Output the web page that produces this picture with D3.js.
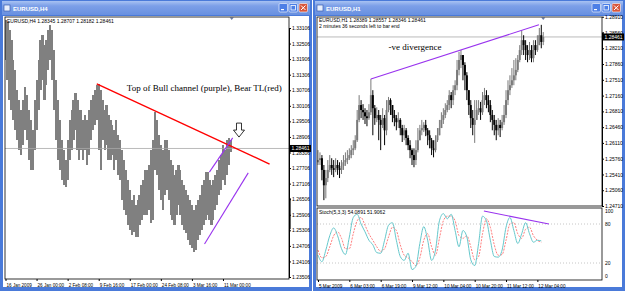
<!DOCTYPE html>
<html>
<head>
<meta charset="utf-8">
<script src="https://cdn.jsdelivr.net/npm/d3@7"></script>
<style>
body { margin: 0; background: #fff; }
svg { display: block; font-family: "Liberation Sans", Arial, sans-serif; }
</style>
</head>
<body>
<div id="graph"></div>
<script>
// ---------- DONNÉES ----------

// Fenêtre gauche : EURUSD,H4 (colonnes haut/bas, une colonne = 2 barres H4)
const h4Dates    = ["16 Jan 2009","26 Jan 00:00","2 Feb 08:00","9 Feb 16:00","17 Feb 00:00","24 Feb 08:00","3 Mar 16:00","11 Mar 00:00"];
const h4DateBars = [0, 32, 64, 96, 128, 160, 192, 224];
const h4Ticks    = [1.33106,1.32506,1.31906,1.31306,1.30706,1.30106,1.29506,1.28906,1.28306,1.27706,1.27106,1.26506,1.25906,1.25306,1.24706,1.24106,1.23506];
const h4Haut = [
  1.3341,1.3334,1.3303,1.3264,1.3187,1.3149,1.3072,1.3033,1.2995,1.3033,
  1.3083,1.3052,1.2995,1.2956,1.2917,1.3033,1.3110,1.3187,1.3264,1.3284,
  1.3245,1.3264,1.3303,1.3322,1.3303,1.3226,1.3110,1.3033,1.2956,1.2879,
  1.2841,1.2802,1.2879,1.2956,1.2995,1.3033,1.3060,1.3033,1.2995,1.2995,
  1.2956,1.2975,1.2956,1.2995,1.3033,1.3052,1.3072,1.3091,1.3095,1.3072,
  1.3033,1.2995,1.3014,1.2975,1.2956,1.2937,1.2917,1.2956,1.2898,1.2879,
  1.2841,1.2802,1.2763,1.2725,1.2686,1.2648,1.2667,1.2628,1.2648,1.2667,
  1.2705,1.2725,1.2763,1.2763,1.2782,1.2841,1.2879,1.2987,1.2956,1.2898,
  1.2860,1.2841,1.2879,1.2879,1.2841,1.2802,1.2782,1.2744,1.2763,1.2782,
  1.2763,1.2725,1.2705,1.2686,1.2667,1.2648,1.2628,1.2609,1.2628,1.2648,
  1.2667,1.2705,1.2725,1.2755,1.2755,1.2725,1.2705,1.2725,1.2744,1.2763,
  1.2802,1.2821,1.2860,1.2841,1.2879,1.2887,1.2879];
const h4Bas = [
  1.3187,1.3110,1.3033,1.2995,1.2956,1.2917,1.2879,1.2841,1.2821,1.2860,
  1.2917,1.2879,1.2802,1.2763,1.2763,1.2841,1.2917,1.2995,1.3072,1.3110,
  1.3033,1.3091,1.3149,1.3187,1.3110,1.2995,1.2879,1.2802,1.2763,1.2725,
  1.2705,1.2698,1.2725,1.2802,1.2841,1.2879,1.2917,1.2841,1.2802,1.2841,
  1.2802,1.2841,1.2782,1.2821,1.2879,1.2917,1.2937,1.2956,1.2841,1.2763,
  1.2879,1.2841,1.2860,1.2802,1.2802,1.2821,1.2763,1.2802,1.2744,1.2725,
  1.2648,1.2609,1.2590,1.2551,1.2532,1.2513,1.2524,1.2505,1.2505,1.2551,
  1.2571,1.2590,1.2590,1.2590,1.2609,1.2559,1.2571,1.2763,1.2744,1.2686,
  1.2648,1.2609,1.2667,1.2686,1.2648,1.2590,1.2571,1.2551,1.2590,1.2628,
  1.2590,1.2551,1.2532,1.2520,1.2494,1.2474,1.2463,1.2447,1.2455,1.2494,
  1.2513,1.2532,1.2551,1.2571,1.2590,1.2571,1.2551,1.2571,1.2609,1.2628,
  1.2667,1.2686,1.2725,1.2705,1.2744,1.2782,1.2833];

// annotations gauche (barre H4, prix)
const ligneRouge   = [[94, 1.3095], [272, 1.2786]];
const canalHaut    = [[210, 1.2755], [234, 1.2887]];
const canalBas     = [[205, 1.2478], [250, 1.2752]];
const flecheH4     = { bar: 240.5, haut: 1.2944, pointe: 1.2890 };
const texteH4      = { bar: 125, prix: 1.3068, txt: "Top of Bull channel (purple), Bear TL(red)" };

// Fenêtre droite : EURUSD,H1 (bougies)
const h1Dates    = ["5 Mar 2009","6 Mar 03:00","6 Mar 19:00","9 Mar 12:00","10 Mar 04:00","10 Mar 20:00","11 Mar 12:00","12 Mar 04:00"];
const h1DateBars = [0, 16, 32, 48, 64, 80, 96, 112];
const h1Ticks    = [1.28910,1.28560,1.28210,1.27860,1.27510,1.27160,1.26810,1.26460,1.26110,1.25760,1.25410,1.25060,1.24710];
const h1Ouv = [
  1.2568,1.2573,1.2577,1.2551,1.2517,1.2533,1.2551,1.2562,1.2555,1.2551,
  1.2562,1.2555,1.2551,1.2560,1.2568,1.2573,1.2577,1.2584,1.2595,1.2599,
  1.2617,1.2662,1.2695,1.2684,1.2679,1.2670,1.2666,1.2679,1.2717,1.2688,
  1.2666,1.2673,1.2662,1.2651,1.2666,1.2639,1.2684,1.2706,1.2695,1.2673,
  1.2666,1.2657,1.2662,1.2644,1.2628,1.2639,1.2622,1.2606,1.2595,1.2584,
  1.2573,1.2595,1.2617,1.2639,1.2644,1.2651,1.2639,1.2628,1.2617,1.2599,
  1.2595,1.2617,1.2628,1.2644,1.2662,1.2673,1.2684,1.2695,1.2717,1.2706,
  1.2728,1.2739,1.2773,1.2795,1.2806,1.2784,1.2761,1.2728,1.2695,1.2666,
  1.2651,1.2662,1.2684,1.2688,1.2679,1.2706,1.2717,1.2706,1.2695,1.2673,
  1.2662,1.2651,1.2639,1.2651,1.2644,1.2657,1.2673,1.2706,1.2728,1.2739,
  1.2750,1.2761,1.2773,1.2795,1.2817,1.2839,1.2828,1.2817,1.2806,1.2817,
  1.2799,1.2828,1.2817,1.2828,1.2850,1.2835];
const h1Haut = [
  1.2595,1.2590,1.2584,1.2562,1.2551,1.2573,1.2584,1.2577,1.2573,1.2577,
  1.2573,1.2568,1.2573,1.2584,1.2590,1.2595,1.2599,1.2606,1.2617,1.2628,
  1.2684,1.2717,1.2706,1.2697,1.2688,1.2684,1.2697,1.2753,1.2728,1.2695,
  1.2690,1.2684,1.2673,1.2688,1.2673,1.2706,1.2713,1.2710,1.2695,1.2684,
  1.2673,1.2679,1.2666,1.2651,1.2651,1.2644,1.2628,1.2617,1.2599,1.2599,
  1.2617,1.2644,1.2651,1.2662,1.2657,1.2662,1.2644,1.2639,1.2622,1.2617,
  1.2628,1.2644,1.2662,1.2679,1.2688,1.2699,1.2706,1.2728,1.2724,1.2739,
  1.2750,1.2795,1.2813,1.2817,1.2806,1.2790,1.2768,1.2728,1.2706,1.2684,
  1.2706,1.2706,1.2706,1.2702,1.2724,1.2733,1.2728,1.2717,1.2706,1.2684,
  1.2673,1.2662,1.2666,1.2662,1.2673,1.2695,1.2728,1.2750,1.2761,1.2777,
  1.2795,1.2799,1.2806,1.2828,1.2861,1.2850,1.2839,1.2828,1.2835,1.2828,
  1.2839,1.2839,1.2850,1.2866,1.2873,1.2857];
const h1Bas = [
  1.2562,1.2562,1.2528,1.2484,1.2488,1.2524,1.2546,1.2540,1.2535,1.2546,
  1.2540,1.2533,1.2542,1.2551,1.2560,1.2564,1.2573,1.2577,1.2584,1.2595,
  1.2613,1.2657,1.2666,1.2662,1.2653,1.2648,1.2662,1.2673,1.2628,1.2651,
  1.2657,1.2617,1.2595,1.2644,1.2606,1.2628,1.2679,1.2673,1.2657,1.2648,
  1.2639,1.2644,1.2628,1.2613,1.2617,1.2606,1.2595,1.2577,1.2562,1.2557,
  1.2562,1.2590,1.2617,1.2628,1.2635,1.2626,1.2606,1.2599,1.2584,1.2579,
  1.2590,1.2613,1.2628,1.2644,1.2653,1.2666,1.2679,1.2684,1.2688,1.2695,
  1.2717,1.2728,1.2761,1.2777,1.2750,1.2728,1.2706,1.2673,1.2644,1.2628,
  1.2611,1.2662,1.2673,1.2662,1.2673,1.2695,1.2688,1.2679,1.2657,1.2639,
  1.2628,1.2617,1.2628,1.2624,1.2639,1.2651,1.2666,1.2695,1.2717,1.2733,
  1.2739,1.2750,1.2768,1.2790,1.2806,1.2806,1.2795,1.2790,1.2795,1.2790,
  1.2790,1.2806,1.2813,1.2828,1.2821,1.2828];
const h1Ferm = [
  1.2573,1.2577,1.2551,1.2517,1.2533,1.2551,1.2562,1.2555,1.2551,1.2562,
  1.2555,1.2551,1.2560,1.2568,1.2573,1.2577,1.2584,1.2595,1.2599,1.2617,
  1.2662,1.2695,1.2684,1.2679,1.2670,1.2666,1.2679,1.2717,1.2688,1.2666,
  1.2673,1.2662,1.2651,1.2666,1.2639,1.2684,1.2706,1.2695,1.2673,1.2666,
  1.2657,1.2662,1.2644,1.2628,1.2639,1.2622,1.2606,1.2595,1.2584,1.2573,
  1.2595,1.2617,1.2639,1.2644,1.2651,1.2639,1.2628,1.2617,1.2599,1.2595,
  1.2617,1.2628,1.2644,1.2662,1.2673,1.2684,1.2695,1.2717,1.2706,1.2728,
  1.2739,1.2773,1.2795,1.2806,1.2784,1.2761,1.2728,1.2695,1.2666,1.2651,
  1.2662,1.2684,1.2688,1.2679,1.2706,1.2717,1.2706,1.2695,1.2673,1.2662,
  1.2651,1.2639,1.2651,1.2644,1.2657,1.2673,1.2706,1.2728,1.2739,1.2750,
  1.2761,1.2773,1.2795,1.2817,1.2839,1.2828,1.2817,1.2806,1.2817,1.2799,
  1.2828,1.2817,1.2828,1.2850,1.2835,1.2846];

// Stochastique (5,3,3) : une valeur toutes les 2 barres H1
const stochK = [32,22,40,62,74,62,42,33,60,90, 95,80,68,55,48,36,35,55,78,82, 55,30,24,35,10,15,50,76,55,24,
                40,85,96,88,95,70,45,70,60,25, 16,50,92,85,55,30,29,40,75,90, 70,50,65,82,65,52,55,54];
const stochD = [40,28,30,45,62,68,58,42,42,65, 85,90,78,65,55,45,38,42,60,75, 70,48,32,28,22,16,28,55,65,45,
                32,58,85,92,92,85,62,58,62,45, 25,30,65,88,75,48,32,33,55,80, 82,65,58,72,75,62,55,52];
const stochTicks = [100, 80, 20, 0];
const stochNiveaux = [80, 20];

// annotations droite (barre H1, prix / valeur)
const divergencePrix  = [[27, 1.2753], [112.8, 1.2873]];
const divergenceStoch = [[84.7, 100], [117.9, 80]];
const texteH1 = { bar: 36, prix: 1.2817, txt: "-ve divergence" };
const prixActuel = 1.28461;

// ---------- MISE EN PAGE ----------
const largeur = 625, hauteur = 291;
const svg = d3.select("#graph").append("svg").attr("width", largeur).attr("height", hauteur);
const defs = svg.append("defs");

const grad = defs.append("linearGradient").attr("id", "barreTitre")
  .attr("x1", 0).attr("y1", 0).attr("x2", 0).attr("y2", 1);
grad.append("stop").attr("offset", "0%").attr("stop-color", "#a8c2f2");
grad.append("stop").attr("offset", "35%").attr("stop-color", "#7c9fe8");
grad.append("stop").attr("offset", "100%").attr("stop-color", "#6890e0");

// fenêtres façon Windows XP
function fenetre(x0, w, titre) {
  const g = svg.append("g");
  g.append("rect").attr("x", x0).attr("y", 0).attr("width", w).attr("height", hauteur).attr("fill", "#4a7ad9");
  g.append("rect").attr("x", x0 + 2).attr("y", 1).attr("width", w - 4).attr("height", 14).attr("fill", "url(#barreTitre)");
  g.append("rect").attr("x", x0 + 3).attr("y", 16).attr("width", w - 6).attr("height", hauteur - 20).attr("fill", "#fff");
  // icône
  g.append("rect").attr("x", x0 + 4).attr("y", 5).attr("width", 6).attr("height", 6)
    .attr("fill", "#e8eefc").attr("stroke", "#3a5fb0").attr("stroke-width", 0.7);
  g.append("text").attr("x", x0 + 13).attr("y", 11).attr("fill", "#fff")
    .attr("font-size", 6).attr("font-weight", "bold").text(titre);
  // boutons
  const bx = x0 + w - 33;
  [0, 10].forEach(dx => {
    g.append("rect").attr("x", bx + dx).attr("y", 3.5).attr("width", 8.5).attr("height", 8.5).attr("rx", 1.2)
      .attr("fill", "#4d7fe6").attr("stroke", "#fff").attr("stroke-width", 0.6);
  });
  g.append("rect").attr("x", bx + 2).attr("y", 9).attr("width", 3).attr("height", 1.2).attr("fill", "#fff");
  g.append("rect").attr("x", bx + 12).attr("y", 5.5).attr("width", 4.5).attr("height", 4.5)
    .attr("fill", "none").attr("stroke", "#fff").attr("stroke-width", 0.8);
  g.append("rect").attr("x", bx + 20).attr("y", 3.5).attr("width", 8.5).attr("height", 8.5).attr("rx", 1.2)
    .attr("fill", "#d9573c").attr("stroke", "#fff").attr("stroke-width", 0.6);
  g.append("path").attr("d", `M${bx + 22},5.5 L${bx + 26.5},10 M${bx + 26.5},5.5 L${bx + 22},10`)
    .attr("stroke", "#fff").attr("stroke-width", 1);
  return g;
}

fenetre(0, 312, "EURUSD,H4");
fenetre(313, 312, "EURUSD,H1");

function styleAxe(g, taille) {
  g.attr("font-size", taille || 5).attr("font-family", "'Liberation Sans', Arial, sans-serif");
  g.select(".domain").attr("stroke", "#000");
  g.selectAll(".tick line").attr("stroke", "#000");
  g.selectAll(".tick text").attr("fill", "#000");
}

function clip(id, x, y, w, h) {
  defs.append("clipPath").attr("id", id).append("rect")
    .attr("x", x).attr("y", y).attr("width", w).attr("height", h);
  return `url(#${id})`;
}

// ---------- FENÊTRE GAUCHE ----------
const L = { g: 5, d: 289, h: 17, b: 279 };
const xL = d3.scaleLinear().domain([0, 292]).range([L.g + 0.5, L.d]);
const yL = d3.scaleLinear().domain([1.23506, 1.33106]).range([277, 28]);

const gL = svg.append("g");
const gLc = gL.append("g").attr("clip-path", clip("clipL", L.g, L.h, L.d - L.g, L.b - L.h));

gLc.selectAll(".barreH4").data(h4Haut).join("rect")
  .attr("x", (d, i) => xL(2 * i) - 1)
  .attr("width", 2.2)
  .attr("y", d => yL(d))
  .attr("height", (d, i) => yL(h4Bas[i]) - yL(d))
  .attr("fill", "#808080")
  .attr("shape-rendering", "crispEdges");

gLc.append("line")
  .attr("x1", L.g).attr("x2", L.d).attr("y1", yL(prixActuel)).attr("y2", yL(prixActuel))
  .attr("stroke", "#a8a8a8").attr("stroke-width", 0.8);

const ligneL = d3.line().x(d => xL(d[0])).y(d => yL(d[1]));
gLc.append("path").attr("d", ligneL(ligneRouge)).attr("stroke", "#ff0000").attr("stroke-width", 1.4).attr("fill", "none");
[canalHaut, canalBas].forEach(c => {
  gLc.append("path").attr("d", ligneL(c)).attr("stroke", "#9933ee").attr("stroke-width", 1.1).attr("fill", "none");
});

// flèche creuse
{
  const fx = xL(flecheH4.bar), ft = yL(flecheH4.haut), fp = yL(flecheH4.pointe);
  const mi = ft + (fp - ft) * 0.5;
  gL.append("path")
    .attr("d", `M${fx - 2.5},${ft} L${fx + 2.5},${ft} L${fx + 2.5},${mi} L${fx + 5.5},${mi} L${fx},${fp} L${fx - 5.5},${mi} L${fx - 2.5},${mi} Z`)
    .attr("fill", "#fff").attr("stroke", "#000").attr("stroke-width", 0.8);
}

gL.append("text").attr("x", xL(texteH4.bar)).attr("y", yL(texteH4.prix))
  .attr("font-family", "'Liberation Serif', 'Times New Roman', serif").attr("font-size", 9)
  .attr("fill", "#000").text(texteH4.txt);

gL.append("text").attr("x", 7).attr("y", 23).attr("font-size", 5).attr("fill", "#000")
  .text("EURUSD,H4  1.28345 1.28707 1.28182 1.28461");
gL.append("path").attr("d", `M${xL(233) - 2},17.5 L${xL(233) + 2},17.5 L${xL(233)},20 Z`).attr("fill", "#6a7da8");

gL.append("rect").attr("x", L.g).attr("y", L.h).attr("width", L.d - L.g).attr("height", L.b - L.h)
  .attr("fill", "none").attr("stroke", "#000").attr("stroke-width", 0.8);

gL.append("g").attr("transform", `translate(${L.d},0)`)
  .call(d3.axisRight(yL).tickValues(h4Ticks).tickFormat(d => d.toFixed(5)).tickSize(2).tickPadding(1))
  .call(g => styleAxe(g, 5));
gL.append("g").attr("transform", `translate(0,${L.b})`)
  .call(d3.axisBottom(xL).tickValues(h4DateBars).tickFormat((d, i) => h4Dates[i]).tickSize(2).tickPadding(2))
  .call(g => styleAxe(g, 4.6))
  .call(g => g.selectAll(".tick text").attr("text-anchor", "start").attr("dx", 0.5).attr("dy", "0.9em"))
  .call(g => g.select(".domain").remove());

gL.append("rect").attr("x", L.d).attr("y", yL(1.2655)).attr("width", 1.6).attr("height", yL(1.2535) - yL(1.2655)).attr("fill", "#000");

function boitePrix(g, xd, y) {
  g.append("rect").attr("x", xd + 1).attr("y", y - 3.5).attr("width", 21).attr("height", 7).attr("fill", "#000");
  g.append("text").attr("x", xd + 2.5).attr("y", y + 1.8).attr("font-size", 5).attr("fill", "#fff").text(prixActuel.toFixed(5));
}
boitePrix(gL, L.d, yL(prixActuel));

// ---------- FENÊTRE DROITE ----------
const R = { g: 317, d: 602, h: 17, b: 206, sh: 208, sb: 280 };
const xR = d3.scaleLinear().domain([0, 145]).range([R.g + 1, R.d]);
const yR = d3.scaleLinear().domain([1.24710, 1.28560]).range([206, 32.5]);
const yS = d3.scaleLinear().domain([0, 100]).range([276, 211]);

const gR = svg.append("g");
const gRc = gR.append("g").attr("clip-path", clip("clipR", R.g, R.h, R.d - R.g, R.b - R.h));

const bougies = h1Ouv.map((o, i) => ({ i, o, h: h1Haut[i], l: h1Bas[i], c: h1Ferm[i] }));
const couleur = d => d.c >= d.o ? "#7a7a7a" : "#000";

gRc.append("line")
  .attr("x1", R.g).attr("x2", R.d).attr("y1", yR(prixActuel)).attr("y2", yR(prixActuel))
  .attr("stroke", "#a8a8a8").attr("stroke-width", 0.8);

gRc.selectAll(".meche").data(bougies).join("line")
  .attr("x1", d => xR(d.i)).attr("x2", d => xR(d.i))
  .attr("y1", d => yR(d.h)).attr("y2", d => yR(d.l))
  .attr("stroke", couleur).attr("stroke-width", 1);
gRc.selectAll(".corps").data(bougies).join("rect")
  .attr("x", d => xR(d.i) - 1).attr("width", 2)
  .attr("y", d => yR(Math.max(d.o, d.c)))
  .attr("height", d => Math.max(0.8, Math.abs(yR(d.o) - yR(d.c))))
  .attr("fill", couleur);

const ligneR = d3.line().x(d => xR(d[0])).y(d => yR(d[1]));
gRc.append("path").attr("d", ligneR(divergencePrix)).attr("stroke", "#9933ee").attr("stroke-width", 1.1).attr("fill", "none");

gR.append("text").attr("x", xR(texteH1.bar)).attr("y", yR(texteH1.prix))
  .attr("font-family", "'Liberation Serif', 'Times New Roman', serif").attr("font-size", 9)
  .attr("fill", "#000").text(texteH1.txt);

gR.append("text").attr("x", 319).attr("y", 22).attr("font-size", 5).attr("fill", "#000")
  .text("EURUSD,H1  1.28389 1.28557 1.28346 1.28461");
gR.append("text").attr("x", 319).attr("y", 28).attr("font-size", 5).attr("fill", "#000")
  .text("2 minutes 36 seconds left to bar end");
gR.append("path").attr("d", `M${xR(115) - 2},17.5 L${xR(115) + 2},17.5 L${xR(115)},20 Z`).attr("fill", "#6a7da8");

gR.append("rect").attr("x", R.g).attr("y", R.h).attr("width", R.d - R.g).attr("height", R.b - R.h)
  .attr("fill", "none").attr("stroke", "#000").attr("stroke-width", 0.8);

gR.append("g").attr("transform", `translate(${R.d},0)`)
  .call(d3.axisRight(yR).tickValues(h1Ticks).tickFormat(d => d.toFixed(5)).tickSize(2).tickPadding(1))
  .call(g => styleAxe(g, 5));
boitePrix(gR, R.d, yR(prixActuel));

// sous-fenêtre stochastique
const gS = gR.append("g");
const gSc = gS.append("g").attr("clip-path", clip("clipS", R.g, R.sh, R.d - R.g, R.sb - R.sh));
gSc.selectAll(".niveau").data(stochNiveaux).join("line")
  .attr("x1", R.g).attr("x2", R.d).attr("y1", d => yS(d)).attr("y2", d => yS(d))
  .attr("stroke", "#b8b8b8").attr("stroke-width", 0.8).attr("stroke-dasharray", "1,2");

const ligneS = d3.line().x((d, i) => xR(2 * i)).y(d => yS(d)).curve(d3.curveMonotoneX);
gSc.append("path").attr("d", ligneS(stochD)).attr("fill", "none")
  .attr("stroke", "#ff7070").attr("stroke-width", 0.9).attr("stroke-dasharray", "2,1.2");
gSc.append("path").attr("d", ligneS(stochK)).attr("fill", "none")
  .attr("stroke", "#66c8cc").attr("stroke-width", 1);
gSc.append("path").attr("d", d3.line().x(d => xR(d[0])).y(d => yS(d[1]))(divergenceStoch))
  .attr("stroke", "#9933ee").attr("stroke-width", 1.1).attr("fill", "none");

gS.append("text").attr("x", 319).attr("y", 214).attr("font-size", 5).attr("fill", "#000")
  .text("Stoch(5,3,3) 54.0891 51.9062");

gS.append("rect").attr("x", R.g).attr("y", R.sh).attr("width", R.d - R.g).attr("height", R.sb - R.sh)
  .attr("fill", "none").attr("stroke", "#000").attr("stroke-width", 0.8);
gS.append("g").attr("transform", `translate(${R.d},0)`)
  .call(d3.axisRight(yS).tickValues(stochTicks).tickFormat(d => d).tickSize(0).tickPadding(3))
  .call(g => styleAxe(g, 5))
  .call(g => g.select(".domain").remove());

gR.append("g").attr("transform", `translate(0,${R.sb})`)
  .call(d3.axisBottom(xR).tickValues(h1DateBars).tickFormat((d, i) => h1Dates[i]).tickSize(2).tickPadding(2))
  .call(g => styleAxe(g, 4.6))
  .call(g => g.selectAll(".tick text").attr("text-anchor", "start").attr("dx", 0.5).attr("dy", "0.9em"))
  .call(g => g.select(".domain").remove());
</script>
</body>
</html>
